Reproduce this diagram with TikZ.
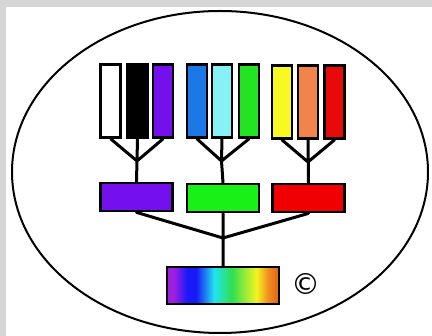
\documentclass[tikz,border=0pt]{standalone}
\usepackage{fontspec}
\newfontfamily\symfont{DejaVu Sans}
\definecolor{bggray}{HTML}{D6D6D6}
\definecolor{cpurple}{HTML}{7410EE}
\definecolor{cblue}{HTML}{1C78E6}
\definecolor{ccyan}{HTML}{86F2F8}
\definecolor{cgreen}{HTML}{22E422}
\definecolor{cyellow}{HTML}{F8F822}
\definecolor{corange}{HTML}{F0844A}
\definecolor{cred}{HTML}{E80A0A}
\definecolor{mgreen}{HTML}{18F018}
\definecolor{mred}{HTML}{F00000}
\definecolor{spviolet}{HTML}{A020E0}
\definecolor{spblue}{HTML}{1A1AF8}
\definecolor{spcyan}{HTML}{20E4F0}
\definecolor{spgreen}{HTML}{30E050}
\definecolor{spyellow}{HTML}{F4F420}
\definecolor{sporange}{HTML}{F09020}
\definecolor{spdark}{HTML}{E06018}
\pgfdeclarehorizontalshading{spectrum}{100bp}{color(0bp)=(spviolet); color(25bp)=(spviolet); color(28bp)=(spviolet); color(34bp)=(spblue); color(38bp)=(spblue); color(46bp)=(spcyan); color(54bp)=(spgreen); color(65bp)=(spyellow); color(70bp)=(sporange); color(75bp)=(spdark); color(100bp)=(spdark)}
\begin{document}
\begin{tikzpicture}[x=1pt,y=-1pt,
  bar/.style={draw=black, line width=2.8pt, minimum width=20pt, minimum height=73pt, inner sep=0pt},
  midbox/.style={draw=black, line width=2.8pt, minimum width=72pt, minimum height=28pt, inner sep=0pt},
  conn/.style={line width=3pt, line cap=round}]
\useasboundingbox (0,0) rectangle (432,336);
\fill[bggray] (0,0) rectangle (432,336);
\fill[white] (6,7) rectangle (432,336);
\draw[line width=2pt] (220,172) ellipse [x radius=208, y radius=161];
\coordinate (j1) at (137,161);
\coordinate (j2) at (221.5,161);
\coordinate (j3) at (308,162);
\coordinate (j4) at (223,238);
% top bars
\node[bar, fill=white]   (b1) at (110.7,101) {};
\node[bar, fill=black]   (b2) at (137.5,101) {};
\node[bar, fill=cpurple] (b3) at (163,101) {};
\node[bar, fill=cblue]   (b4) at (197,101) {};
\node[bar, fill=ccyan]   (b5) at (222,101) {};
\node[bar, fill=cgreen]  (b6) at (249,101) {};
\node[bar, fill=cyellow] (b7) at (282,102) {};
\node[bar, fill=corange] (b8) at (308,102) {};
\node[bar, fill=cred]    (b9) at (334.5,102) {};
% middle boxes
\node[midbox, fill=cpurple] (m1) at (136.5,197) {};
\node[midbox, fill=mgreen]  (m2) at (223,198) {};
\node[midbox, fill=mred]    (m3) at (308.5,198) {};
% spectrum
\node[draw=black, line width=2.4pt, shading=spectrum, minimum width=112pt, minimum height=37pt, inner sep=0pt] (sp) at (223,285.5) {};
% copyright
\node[font=\symfont\fontsize{29}{29}\selectfont, inner sep=0pt] (cp) at (305.7,284.3) {©};
\draw[conn] (b1.south) -- (j1) (b3.south) -- (j1) (b2.south) -- (m1.north);
\draw[conn] (b4.south) -- (j2) (b6.south) -- (j2) (b5.south) -- (j2) -- (m2.north);
\draw[conn] (b7.south) -- (j3) (b9.south) -- (j3) (b8.south) -- (m3.north);
\draw[conn] (m1.south) -- (j4) (m3.south) -- (j4) (m2.south) -- (sp.north);
\end{tikzpicture}
\end{document}
